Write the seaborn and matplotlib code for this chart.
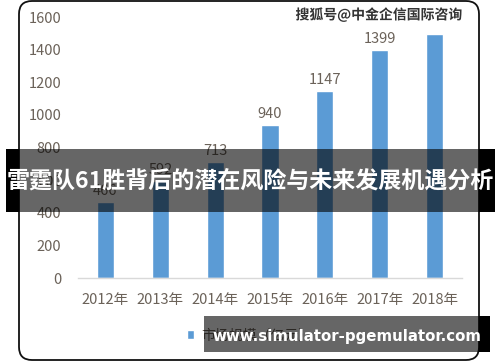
import numpy as np
import seaborn as sns
import matplotlib.pyplot as plt
import pandas as pd
import matplotlib.patches as mpatches
import matplotlib.patheffects as pe

years = ["2012年", "2013年", "2014年", "2015年", "2016年", "2017年", "2018年"]
market_size = [466, 592, 713, 940, 1147, 1399, 1497]
# the 2018 value label is hidden under the source watermark in the picture
shown_labels = ["466", "592", "713", "940", "1147", "1399", ""]
series_name = "市场规模（亿元）"
yticks = [0, 200, 400, 600, 800, 1000, 1200, 1400, 1600]

banner_title = "雷霆队61胜背后的潜在风险与未来发展机遇分析"
source_mark = "搜狐号@中金企信国际咨询"
site_mark = "www.simulator-pgemulator.com"

sns.set_theme(style="white")
plt.rcParams['font.family'] = ['Noto Sans CJK SC', 'DejaVu Sans']

df = pd.DataFrame({"year": years, "value": market_size})

fig = plt.figure(figsize=(5, 3.62), dpi=100)
ax = fig.add_axes([0.156, 0.232, 0.768, 0.721])

txt = "#6b6259"
bar_blue = "#5b9bd5"
sns.barplot(data=df, x="year", y="value", color=bar_blue, width=0.31,
            saturation=1, ax=ax, label=series_name)
ax.bar_label(ax.containers[0], labels=shown_labels, padding=3, fontsize=10.5, color=txt)

ax.set_ylim(0, 1600)
ax.set_xlim(-0.5, 6.5)
ax.set_yticks(yticks)
ax.set_yticklabels([str(v) for v in yticks])
ax.set_xlabel("")
ax.set_ylabel("")
ax.tick_params(axis="y", length=0, pad=12, labelsize=10.5, labelcolor=txt)
ax.tick_params(axis="x", length=0, pad=11, labelsize=10.5, labelcolor=txt)
for s in ["top", "right", "left"]:
    ax.spines[s].set_visible(False)
ax.spines["bottom"].set_color("#d9d9d9")
ax.spines["bottom"].set_linewidth(1)
ax.legend(loc="center", bbox_to_anchor=(0.447, -0.22), frameon=False,
          handlelength=0.55, handleheight=0.55, handletextpad=0.5,
          fontsize=10, labelcolor=txt)

inch = fig.dpi_scale_trans
# rounded chart frame
frame = mpatches.FancyBboxPatch((0.19, 0.02), 4.60, 3.59,
                                boxstyle="round,pad=0,rounding_size=0.13",
                                transform=inch, fill=False, edgecolor="#111111",
                                linewidth=1.3, zorder=2)
fig.add_artist(frame)

# title banner
fig.add_artist(mpatches.Rectangle((0.19, 1.50), 4.60, 0.63, transform=inch,
                                  facecolor="black", alpha=0.6, edgecolor="none", zorder=3))
fig.add_artist(mpatches.Rectangle((0.06, 1.50), 0.13, 0.63, transform=inch,
                                  facecolor="black", edgecolor="none", zorder=3))
fig.add_artist(mpatches.Rectangle((4.79, 1.50), 0.16, 0.63, transform=inch,
                                  facecolor="black", edgecolor="none", zorder=3))
fig.text(2.50, 1.81, banner_title, transform=inch, ha="center", va="center",
         color="white", fontsize=16.6, fontweight="bold", zorder=4)

# site watermark
fig.add_artist(mpatches.Rectangle((2.04, 0.10), 2.75, 0.36, transform=inch,
                                  facecolor="black", alpha=0.6, edgecolor="none", zorder=3))
fig.add_artist(mpatches.Rectangle((4.79, 0.10), 0.11, 0.36, transform=inch,
                                  facecolor="black", edgecolor="none", zorder=3))
fig.text(3.47, 0.26, site_mark, transform=inch, ha="center", va="center",
         color="white", fontsize=10.8, fontweight="bold",
         family=['DejaVu Sans'], zorder=4)

# source watermark
fig.text(4.62, 3.47, source_mark, transform=inch, ha="right", va="center",
         color="#333333", fontsize=10, fontweight="bold", zorder=4,
         path_effects=[pe.withStroke(linewidth=2, foreground="white")])

fig.savefig("out.png", dpi=100)
